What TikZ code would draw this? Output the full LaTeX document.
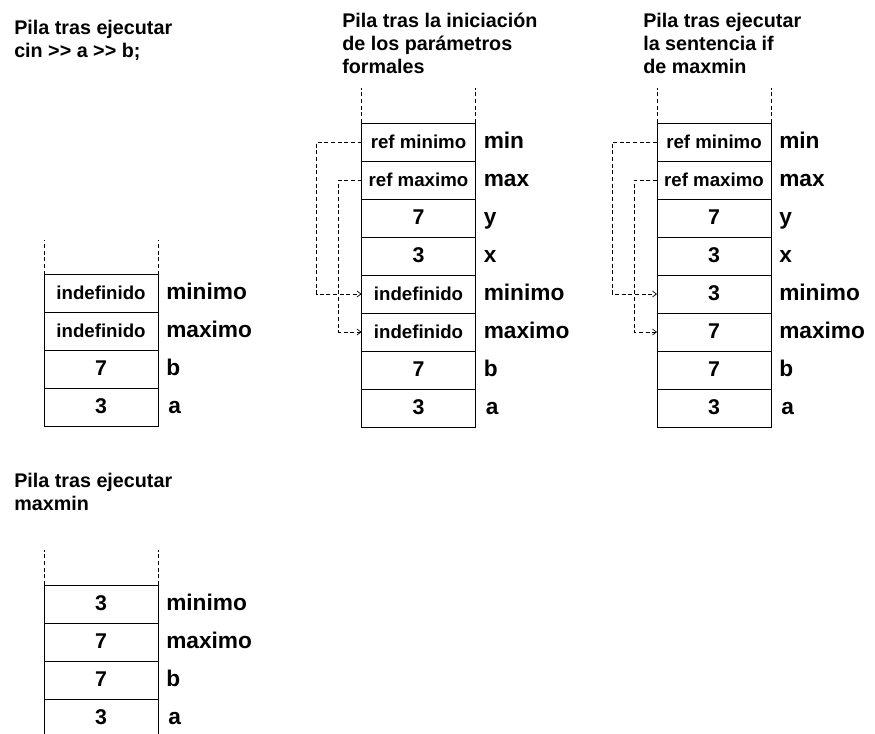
\documentclass[tikz,border=0pt]{standalone}
\usepackage{fontspec}
\setmainfont{Liberation Sans}
\usepackage{tikz}
\usetikzlibrary{arrows.meta, positioning}

\begin{document}
\begin{tikzpicture}[
    x=0.75pt, y=-0.75pt,
    celda/.style={draw, line width=0.6pt, minimum width=85.5pt, minimum height=28.5pt, outer sep=0pt, inner sep=0pt,
                  font=\fontsize{14}{16}\selectfont\bfseries, text height=9.5pt, text depth=0pt},
    num/.style={celda, font=\fontsize{16}{18}\selectfont\bfseries},
    etiq/.style={anchor=base west, inner sep=0pt, font=\fontsize{17}{19}\selectfont\bfseries},
    titulo/.style={anchor=base west, align=left, inner sep=0pt, font=\fontsize{14.8}{17.25}\selectfont\bfseries},
    pared/.style={line width=0.5pt, dash pattern=on 3pt off 2pt},
    enlace/.style={line width=0.5pt, dash pattern=on 3pt off 2pt, -{Straight Barb[length=3pt, width=4.5pt]}}
]
    \useasboundingbox (0,0) rectangle (875,733);

    % titulos (base = ultima linea)
    \node[titulo] (t1) at (14,57) {Pila tras ejecutar\\cin >{}> a >{}> b;};
    \node[titulo] (t2) at (342,73) {Pila tras la iniciaci\'on\\de los par\'ametros\\formales};
    \node[titulo] (t3) at (643,73) {Pila tras ejecutar\\la sentencia if\\de maxmin};
    \node[titulo] (t4) at (14,510) {Pila tras ejecutar\\maxmin};

    % pila 1
    \node[celda] (p1min) at (101,293.5) {indefinido};
    \node[celda, below=0pt of p1min] (p1max) {indefinido};
    \node[num, below=0pt of p1max] (p1b) {7};
    \node[num, below=0pt of p1b] (p1a) {3};
    \draw[pared] (p1min.north west) -- ++(0,-35);
    \draw[pared] (p1min.north east) -- ++(0,-35);
    \node[right=6pt of p1min.base east, etiq] (l1min) {minimo};
    \node[right=6pt of p1max.base east, etiq] (l1max) {maximo};
    \node[right=6pt of p1b.base east, etiq] (l1b) {b};
    \node[right=7.5pt of p1a.base east, etiq] (l1a) {a};

    % pila 2
    \node[celda] (p2rmin) at (418.5,142) {ref minimo};
    \node[celda, below=0pt of p2rmin] (p2rmax) {ref maximo};
    \node[num, below=0pt of p2rmax] (p2y) {7};
    \node[num, below=0pt of p2y] (p2x) {3};
    \node[celda, below=0pt of p2x] (p2min) {indefinido};
    \node[celda, below=0pt of p2min] (p2max) {indefinido};
    \node[num, below=0pt of p2max] (p2b) {7};
    \node[num, below=0pt of p2b] (p2a) {3};
    \draw[pared] (p2rmin.north west) -- ++(0,-35);
    \draw[pared] (p2rmin.north east) -- ++(0,-35);
    \node[right=6pt of p2rmin.base east, etiq] (l2rmin) {min};
    \node[right=6pt of p2rmax.base east, etiq] (l2rmax) {max};
    \node[right=6pt of p2y.base east, etiq] (l2y) {y};
    \node[right=6pt of p2x.base east, etiq] (l2x) {x};
    \node[right=6pt of p2min.base east, etiq] (l2min) {minimo};
    \node[right=6pt of p2max.base east, etiq] (l2max) {maximo};
    \node[right=6pt of p2b.base east, etiq] (l2b) {b};
    \node[right=7.5pt of p2a.base east, etiq] (l2a) {a};
    \draw[enlace] (p2rmin.west) -- ++(-45,0) |- (p2min.west);
    \draw[enlace] (p2rmax.west) -- ++(-23,0) |- (p2max.west);

    % pila 3
    \node[celda] (p3rmin) at (714,142) {ref minimo};
    \node[celda, below=0pt of p3rmin] (p3rmax) {ref maximo};
    \node[num, below=0pt of p3rmax] (p3y) {7};
    \node[num, below=0pt of p3y] (p3x) {3};
    \node[num, below=0pt of p3x] (p3min) {3};
    \node[num, below=0pt of p3min] (p3max) {7};
    \node[num, below=0pt of p3max] (p3b) {7};
    \node[num, below=0pt of p3b] (p3a) {3};
    \draw[pared] (p3rmin.north west) -- ++(0,-35);
    \draw[pared] (p3rmin.north east) -- ++(0,-35);
    \node[right=6pt of p3rmin.base east, etiq] (l3rmin) {min};
    \node[right=6pt of p3rmax.base east, etiq] (l3rmax) {max};
    \node[right=6pt of p3y.base east, etiq] (l3y) {y};
    \node[right=6pt of p3x.base east, etiq] (l3x) {x};
    \node[right=6pt of p3min.base east, etiq] (l3min) {minimo};
    \node[right=6pt of p3max.base east, etiq] (l3max) {maximo};
    \node[right=6pt of p3b.base east, etiq] (l3b) {b};
    \node[right=7.5pt of p3a.base east, etiq] (l3a) {a};
    \draw[enlace] (p3rmin.west) -- ++(-45,0) |- (p3min.west);
    \draw[enlace] (p3rmax.west) -- ++(-23,0) |- (p3max.west);

    % pila 4
    \node[num] (p4min) at (101,604) {3};
    \node[num, below=0pt of p4min] (p4max) {7};
    \node[num, below=0pt of p4max] (p4b) {7};
    \node[num, below=0pt of p4b] (p4a) {3};
    \draw[pared] (p4min.north west) -- ++(0,-35);
    \draw[pared] (p4min.north east) -- ++(0,-35);
    \node[right=6pt of p4min.base east, etiq] (l4min) {minimo};
    \node[right=6pt of p4max.base east, etiq] (l4max) {maximo};
    \node[right=6pt of p4b.base east, etiq] (l4b) {b};
    \node[right=7.5pt of p4a.base east, etiq] (l4a) {a};
\end{tikzpicture}
\end{document}
